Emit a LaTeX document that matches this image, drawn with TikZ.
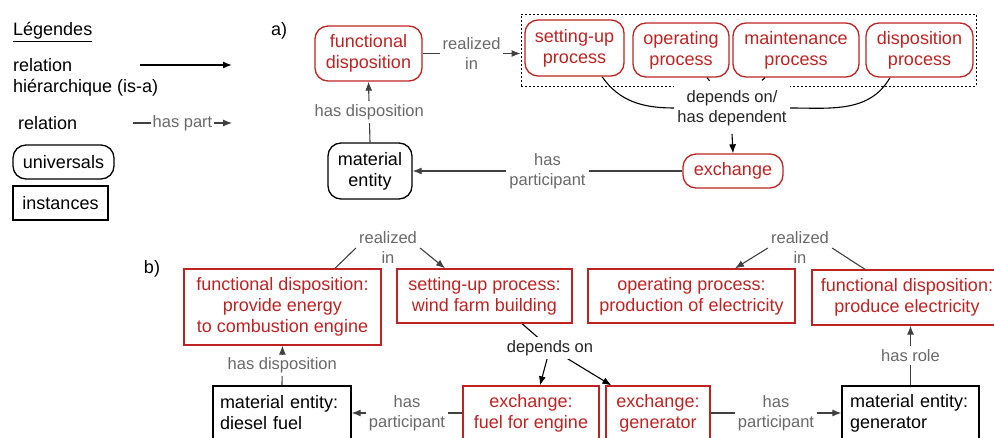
\documentclass[tikz,border=0pt]{standalone}
\usepackage{fontspec}
\setmainfont{Liberation Sans}
\usetikzlibrary{arrows.meta,backgrounds,calc}
\definecolor{dred}{RGB}{190,35,35}
\definecolor{lgrey}{RGB}{105,105,105}
\definecolor{egrey}{RGB}{64,64,64}
\newcommand\nodefont{\fontsize{18pt}{21pt}\selectfont}
\newcommand\lblfont{\fontsize{16.5pt}{20pt}\selectfont}
\tikzset{
  boxbase/.style={line width=1.3pt,align=center,font=\nodefont,inner sep=0pt},
  uni/.style={boxbase,draw=dred,text=dred,rounded corners=13pt},
  unib/.style={boxbase,draw=black,text=black,rounded corners=13pt},
  inst/.style={boxbase,draw=dred,text=dred},
  instb/.style={boxbase,draw=black,text=black},
  lbl/.style={fill=white,text=lgrey,font=\lblfont,align=center,inner sep=3pt},
  conn/.style={draw=egrey,line width=1.1pt},
  arr/.style={conn,-{Latex[length=9pt,width=7pt]}},
  blk/.style={draw=black,line width=1.1pt},
  blkarr/.style={blk,-{Latex[length=9pt,width=7pt]}},
  plain/.style={font=\nodefont,inner sep=0pt,text=black},
}
\begin{document}
\begin{tikzpicture}[x=1pt,y=-1pt]
\clip (0,0) rectangle (994,438);
\useasboundingbox (0,0) rectangle (994,438);

% ---------- legend ----------
\node[plain,anchor=west] (leg) at (13,32) {\underline{Légendes}};
\node[plain,anchor=west,align=left] (rh) at (13,77.5) {relation\\hiérarchique (is-a)};
\coordinate (la1) at (140,65);
\coordinate (la2) at (232,65);
\draw[blkarr,line width=1.4pt] (la1) -- (la2);
\node[plain,anchor=west] (rel) at (18,123) {relation};
\coordinate (hp1) at (133,123);
\coordinate (hp2) at (232,123);
\draw[arr] (hp1) -- node[lbl,inner sep=1.5pt]{has part} (hp2);
\node[unib,minimum width=101pt,minimum height=34pt] (uni) at (63.5,162) {universals};
\node[instb,minimum width=95pt,minimum height=34pt] (ins) at (60.5,203) {instances};

% ---------- part a ----------
\node[plain] (la) at (279,31) {a)};
\node[uni,minimum width=107pt,minimum height=55pt] (fd) at (368.5,53.5) {functional\\disposition};
\node[uni,minimum width=99pt,minimum height=56pt] (su) at (574.5,48) {setting-up\\process};
\node[uni,minimum width=96pt,minimum height=54pt] (op) at (681,50) {operating\\process};
\node[uni,minimum width=126pt,minimum height=54pt] (mt) at (796,50) {maintenance\\process};
\node[uni,minimum width=107pt,minimum height=54pt] (dp) at (919.5,50) {disposition\\process};
\node[draw,dash pattern=on 2pt off 2pt,line width=0.9pt,minimum width=455pt,minimum height=72pt,inner sep=0pt] (grp) at (748.5,50) {};
\node[lbl,text=black!85,inner ysep=8pt] (dep) at (732,108) {depends on/\\has dependent};
\node[uni,minimum width=100pt,minimum height=34pt] (ex) at (733,171) {exchange};
\node[unib,minimum width=84pt,minimum height=56pt] (me) at (370,171) {material\\entity};

\draw[arr] (fd.east) -- node[lbl]{realized\\in} (fd.east -| grp.west);
\draw[arr] (me.north) -- node[lbl]{has disposition} (fd.south);
\draw[arr] (ex.west) -- node[lbl]{has\\participant} (me.east);
\begin{scope}[on background layer]
  \draw[blk] ([xshift=27.5pt]su.south) to[out=-55,in=180] (dep.west);
  \draw[blk] ([xshift=-29.5pt]dp.south) to[out=-120,in=0] (dep.east);
\end{scope}
\coordinate (opt) at ([xshift=26pt]op.south);
\coordinate (mtt) at ([xshift=-31pt]mt.south);
\draw[blk] (opt) -- ($(opt)!4pt!(dep.center)$);
\draw[blk] (mtt) -- ($(mtt)!4pt!(dep.center)$);
\draw[blkarr] (dep.south) -- (ex.north);

% ---------- part b ----------
\node[plain] (lb) at (152,269) {b)};
\node[inst,minimum width=197pt,minimum height=76pt] (fd1) at (282.5,307) {functional disposition:\\provide energy\\to combustion engine};
\node[inst,minimum width=175pt,minimum height=54pt] (su2) at (484.5,296) {setting-up process:\\wind farm building};
\node[inst,minimum width=207pt,minimum height=54pt] (op2) at (691.5,296) {operating process:\\production of electricity};
\node[inst,minimum width=190pt,minimum height=55pt] (fd2) at (907,297.5) {functional disposition:\\produce electricity};
\node[instb,text width=124pt,inner xsep=7pt,align=left,minimum height=54pt] (me1) at (282,413) {material entity:\\diesel fuel};
\node[inst,minimum width=136pt,minimum height=54pt] (ex1) at (531,413) {exchange:\\fuel for engine};
\node[inst,minimum width=104pt,minimum height=54pt] (ex2) at (658,413) {exchange:\\generator};
\node[instb,text width=121pt,inner xsep=8pt,align=left,minimum height=54pt] (me2) at (910.5,413) {material entity:\\generator};
\node[lbl] (ri1) at (388,248) {realized\\in};
\node[lbl] (ri2) at (800,248) {realized\\in};
\node[lbl,text=black!85] (dep2) at (550,348) {depends on};

\draw[conn] ([xshift=52.5pt]fd1.north) -- (ri1.west);
\draw[arr] (ri1.east) -- ([xshift=-39.5pt]su2.north);
\draw[arr] (ri2.west) -- ([xshift=43.5pt]op2.north);
\draw[conn] ([xshift=-42pt]fd2.north) -- (ri2.east);
\begin{scope}[on background layer]
  \draw[blk] ([xshift=37.5pt]su2.south) -- (dep2.center);
  \draw[blkarr] (dep2.center) -- ([xshift=9pt]ex1.north);
  \draw[blkarr] (dep2.center) -- ([xshift=6pt]ex2.north west);
\end{scope}
\draw[arr] (me1.north) -- node[lbl]{has disposition} (fd1.south);
\draw[arr] (ex1.west) -- node[lbl]{has\\participant} (me1.east);
\draw[arr] (ex2.east) -- node[lbl]{has\\participant} (me2.west);
\draw[arr] (me2.north) -- node[lbl]{has role} (me2.north |- fd2.south);
\end{tikzpicture}
\end{document}
